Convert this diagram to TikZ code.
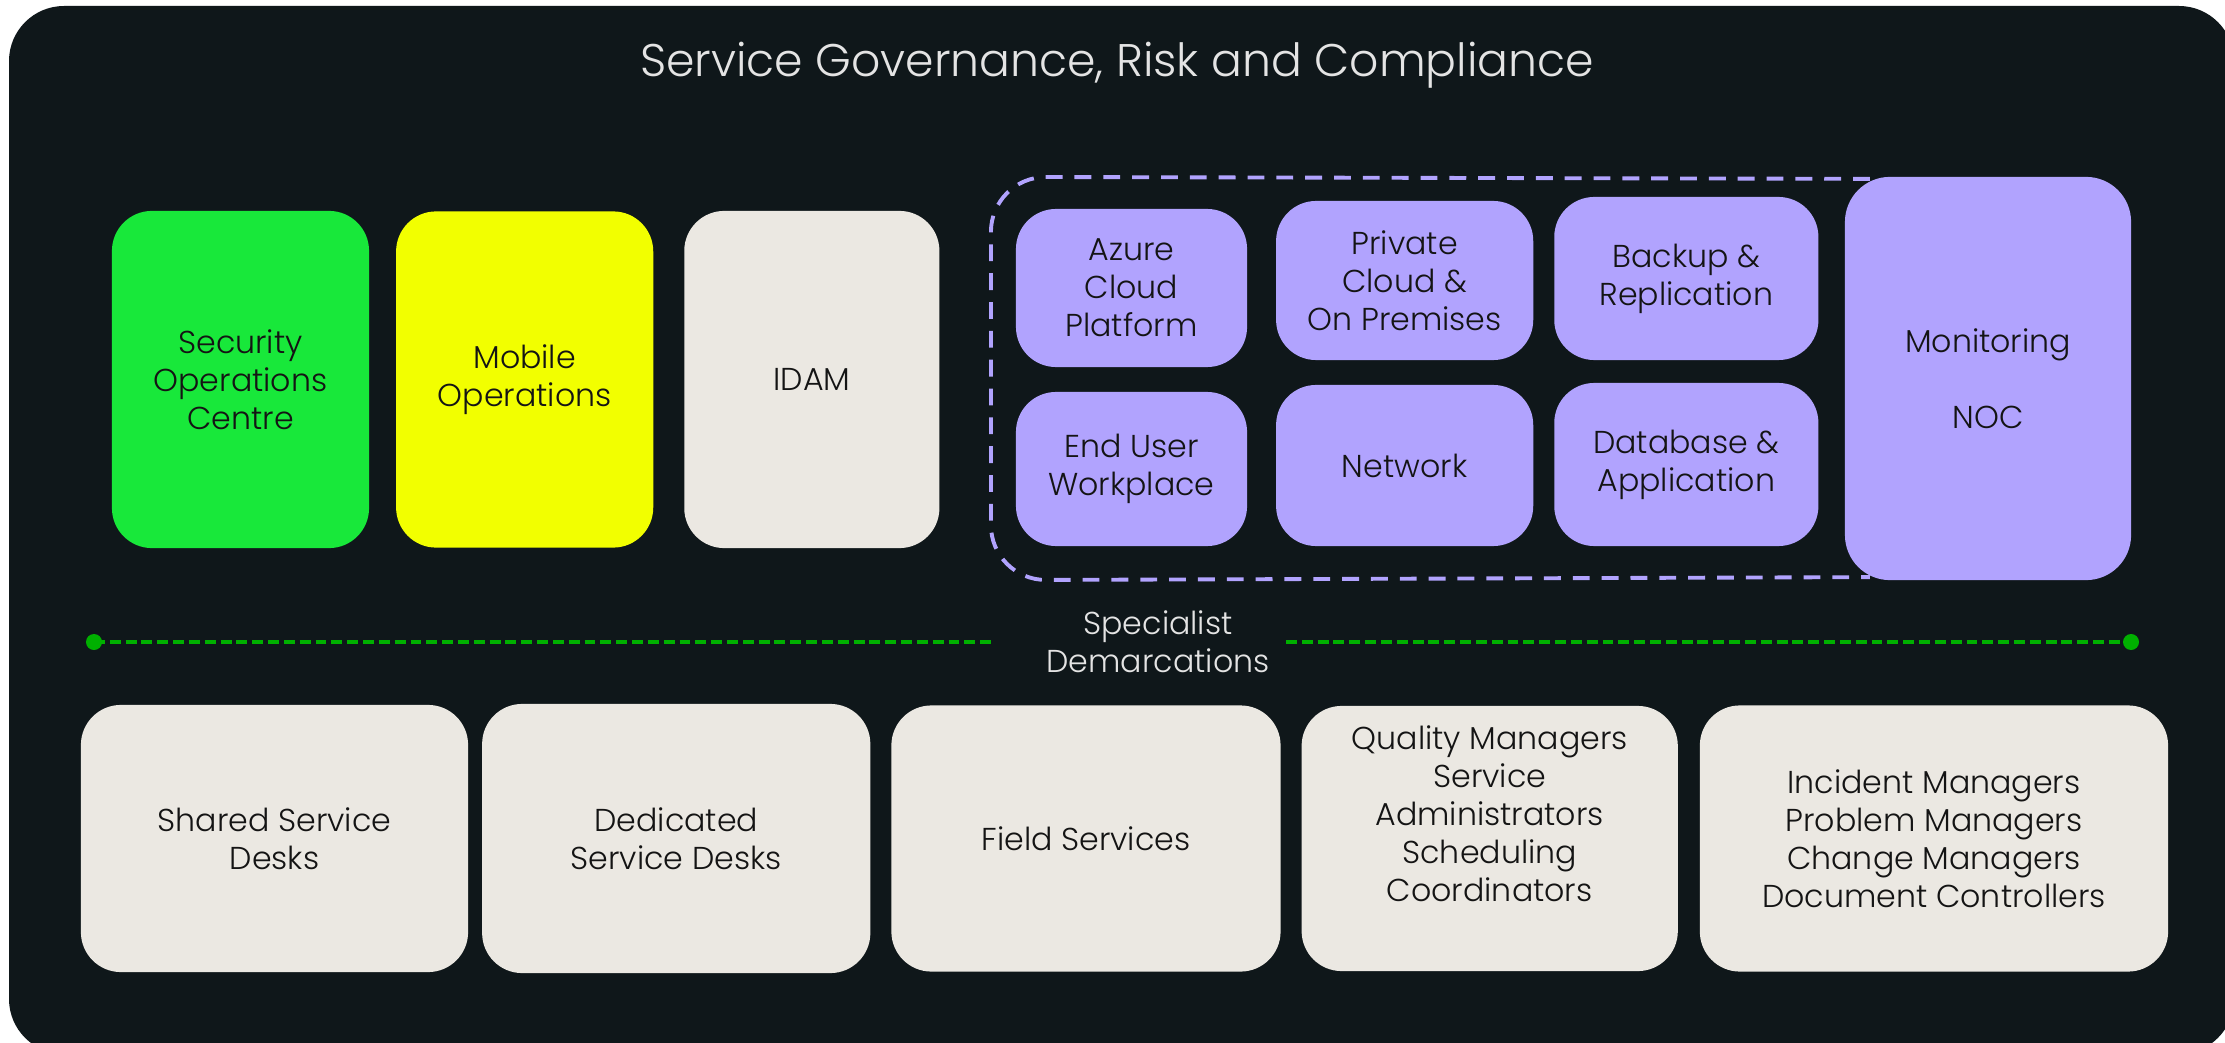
\documentclass[tikz,border=0pt]{standalone}
\usepackage{fontspec}
\setmainfont{Poppins}[UprightFont=* Light]
\usetikzlibrary{positioning}

\definecolor{panelbg}{HTML}{0F171A}
\definecolor{socgreen}{HTML}{18E83A}
\definecolor{mobyellow}{HTML}{F2FF00}
\definecolor{sand}{HTML}{EBE8E2}
\definecolor{lavender}{HTML}{B1A3FE}
\definecolor{demgreen}{HTML}{00B000}
\definecolor{softwhite}{HTML}{E4E4E4}
\definecolor{ink}{HTML}{141414}

\pgfdeclarelayer{bg}
\pgfsetlayers{bg,main}

\begin{document}
\begin{tikzpicture}[
    x=0.01cm, y=-0.01cm,
    tile/.style={rounded corners=0.4cm, align=center, inner sep=0pt, outer sep=0pt, text=ink,
      font=\fontsize{9}{10.8}\selectfont},
    teamtile/.style={tile, fill=lavender},
    sandtile/.style={tile, fill=sand},
    group/.style={draw=lavender, line width=1.1pt, dash pattern=on 4.8pt off 3.4pt,
      rounded corners=0.55cm},
    demarc/.style={draw=demgreen, line width=1.1pt, dash pattern=on 3.1pt off 1.4pt},
    enddot/.style={circle, fill=demgreen, inner sep=0pt, minimum size=0.16cm},
    softtext/.style={text=softwhite, align=center, inner sep=0pt}
    ]

    \useasboundingbox (0,0) rectangle (2225,1043);
    \begin{pgfonlayer}{bg}
      \fill[white] (0,0) rectangle (2225,1043);
      \fill[panelbg, rounded corners=0.55cm] (9,6) rectangle (2234,1054);
    \end{pgfonlayer}

    \node[softtext, font=\fontsize{13}{15.6}\selectfont] (title) at (1117,65)
      {Service Governance, Risk and Compliance};

    % top row
    \node[tile, fill=socgreen, minimum width=2.57cm, minimum height=3.37cm] (soc) at (240.5,379.5)
      {Security\\Operations\\Centre};
    \node[tile, fill=mobyellow, minimum width=2.57cm, minimum height=3.36cm, right=0.27cm of soc] (mobile)
      {Mobile\\Operations};
    \node[sandtile, minimum width=2.55cm, minimum height=3.37cm, right=0.31cm of mobile] (idam) {IDAM};

    \node[teamtile, minimum width=2.31cm, minimum height=1.58cm] (azure) at (1131.5,288)
      {Azure\\Cloud\\Platform};
    \node[teamtile, minimum width=2.57cm, minimum height=1.59cm, right=0.29cm of azure, yshift=0.075cm] (private)
      {Private\\Cloud \&\\On Premises};
    \node[teamtile, minimum width=2.64cm, minimum height=1.63cm, right=0.21cm of private, yshift=0.02cm] (backup)
      {Backup \&\\Replication};

    \node[teamtile, minimum width=2.31cm, minimum height=1.54cm] (enduser) at (1131.5,469)
      {End User\\Workplace};
    \node[teamtile, minimum width=2.57cm, minimum height=1.61cm, right=0.29cm of enduser, yshift=0.035cm] (network)
      {Network};
    \node[teamtile, minimum width=2.64cm, minimum height=1.63cm, right=0.21cm of network, yshift=0.01cm] (dbase)
      {Database \&\\Application};

    \node[teamtile, rounded corners=0.45cm, minimum width=2.86cm, minimum height=4.03cm] (mon) at (1988,378.5)
      {Monitoring\\[10.8pt]NOC};

    \begin{pgfonlayer}{bg}
      \draw[group] ([xshift=0.25cm,yshift=-0.02cm]mon.north west)
        -- ([xshift=-0.25cm]azure.west |- mon.north) -- ([xshift=-0.25cm]azure.west |- mon.south)
        -- ([xshift=0.25cm,yshift=0.03cm]mon.south west);
    \end{pgfonlayer}

    % demarcation line
    \node[enddot] (dleft) at (94,642) {};
    \node[enddot] (dright) at (2131,642) {};
    \node[softtext, font=\fontsize{9}{10.8}\selectfont] (spec) at (1158,642) {Specialist\\Demarcations};
    \coordinate (gapleft) at (991,642);
    \coordinate (gapright) at (1286,642);
    \draw[demarc] (dleft.center) -- (gapleft);
    \draw[demarc] (gapright) -- (dright.center);

    % bottom row
    \node[sandtile, minimum width=3.87cm, minimum height=2.67cm] (shared) at (274.5,838.5)
      {Shared Service\\Desks};
    \node[sandtile, minimum width=3.88cm, minimum height=2.69cm, right=0.14cm of shared] (dedicated)
      {Dedicated\\Service Desks};
    \node[sandtile, minimum width=3.89cm, minimum height=2.66cm, right=0.21cm of dedicated] (field)
      {Field Services};
    \node[sandtile, minimum width=3.76cm, minimum height=2.65cm, text depth=0.5cm, right=0.21cm of field] (quality)
      {Quality Managers\\Service\\Administrators\\Scheduling\\Coordinators};
    \node[sandtile, minimum width=4.68cm, minimum height=2.66cm, right=0.22cm of quality] (incident)
      {Incident Managers\\Problem Managers\\Change Managers\\Document Controllers};

  \end{tikzpicture}
\end{document}
